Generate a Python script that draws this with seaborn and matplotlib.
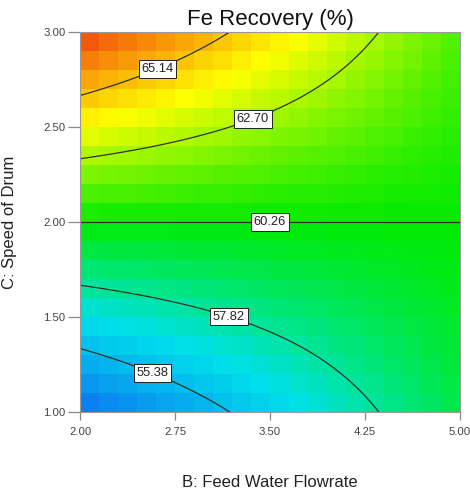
import numpy as np
import pandas as pd
import matplotlib
matplotlib.use('Agg')
import matplotlib.pyplot as plt
import seaborn as sns
from matplotlib.colors import LinearSegmentedColormap

sns.set_style("ticks")
plt.rcParams['font.family'] = ['Liberation Sans', 'DejaVu Sans']

# axis ticks (actual factor units)
b_ticks = [2.00, 2.75, 3.50, 4.25, 5.00]
c_ticks = [1.00, 1.50, 2.00, 2.50, 3.00]

# fitted model in coded units: Fe Recovery = 60.26 + 4.22*C - 3.11*B*C
model_terms = ['Intercept', 'C', 'BC']
model_coefs = [60.26, 4.22, -3.11]

contour_levels = [55.38, 57.82, 60.26, 62.70, 65.14]

# where the contour labels sit (B, C)
label_b = [2.59, 3.19, 3.50, 3.35, 2.59]
label_c = [1.23, 1.53, 2.00, 2.57, 2.84]

n_cells = 20


def fe_recovery(b, c):
    coefs = dict(zip(model_terms, model_coefs))
    b_coded = (b - 3.5) / 1.5
    c_coded = (c - 2.0) / 1.0
    return coefs['Intercept'] + coefs['C'] * c_coded + coefs['BC'] * b_coded * c_coded


def to_x(b):
    return (np.asarray(b) - b_ticks[0]) / (b_ticks[-1] - b_ticks[0]) * n_cells


def to_y(c):
    return (np.asarray(c) - c_ticks[0]) / (c_ticks[-1] - c_ticks[0]) * n_cells


# coloured cells
b_edges = np.linspace(b_ticks[0], b_ticks[-1], n_cells + 1)
c_edges = np.linspace(c_ticks[0], c_ticks[-1], n_cells + 1)
b_mid = (b_edges[:-1] + b_edges[1:]) / 2
c_mid = (c_edges[:-1] + c_edges[1:]) / 2
BB, CC = np.meshgrid(b_mid, c_mid)
grid = pd.DataFrame(fe_recovery(BB, CC), index=np.round(c_mid, 3),
                    columns=np.round(b_mid, 3))

corners = fe_recovery(np.array([b_ticks[0], b_ticks[-1]] * 2),
                      np.array([c_ticks[0]] * 2 + [c_ticks[-1]] * 2))
vmin, vmax = corners.min(), corners.max()

cmap = LinearSegmentedColormap.from_list('de', [
    (0.00, (0.05, 0.45, 0.95)),
    (0.25, (0.00, 0.88, 0.92)),
    (0.50, (0.00, 0.92, 0.00)),
    (0.75, (1.00, 1.00, 0.00)),
    (1.00, (0.95, 0.25, 0.05)),
])

fig = plt.figure(figsize=(4.70, 4.96), dpi=100)
ax = fig.add_axes([80 / 470, 1 - 412 / 496, 380 / 470, 380 / 496])

sns.heatmap(grid, ax=ax, cmap=cmap, vmin=vmin, vmax=vmax, cbar=False,
            xticklabels=False, yticklabels=False)
ax.set_xlim(0, n_cells)
ax.set_ylim(0, n_cells)

# contour lines on a fine grid
bf = np.linspace(b_ticks[0], b_ticks[-1], 301)
cf = np.linspace(c_ticks[0], c_ticks[-1], 301)
BF, CF = np.meshgrid(bf, cf)
cs = ax.contour(to_x(bf), to_y(cf), fe_recovery(BF, CF), levels=contour_levels,
                colors='#2e3326', linewidths=0.9)
manual = list(zip(to_x(label_b), to_y(label_c)))
texts = ax.clabel(cs, fmt='%.2f', manual=manual, inline=False, fontsize=9.3)
for t in texts:
    t.set_rotation(0)
    t.set_color('#222222')
    t.set_bbox(dict(facecolor='white', edgecolor='#222222', linewidth=0.7,
                    boxstyle='square,pad=0.2'))

for s in ax.spines.values():
    s.set_visible(True)
    s.set_color('#999999')
    s.set_linewidth(0.8)

ax.set_xticks(to_x(b_ticks))
ax.set_xticklabels([f'{v:.2f}' for v in b_ticks])
ax.set_yticks(to_y(c_ticks))
ax.set_yticklabels([f'{v:.2f}' for v in c_ticks], rotation=0)
ax.tick_params(axis='both', which='major', left=True, bottom=True,
               direction='out', width=0.9, color='#888888',
               labelsize=8.2, labelcolor='#444444')
ax.tick_params(axis='y', length=9, pad=1.5)
ax.tick_params(axis='x', length=6, pad=5)

ax.set_xlabel('B: Feed Water Flowrate', fontsize=12, color='#222222', labelpad=27)
ax.set_ylabel('C: Speed of Drum', fontsize=12, color='#222222', labelpad=19)
ax.set_title('Fe Recovery (%)', fontsize=16, color='#111111', pad=5)

fig.savefig('out.png', dpi=100)
